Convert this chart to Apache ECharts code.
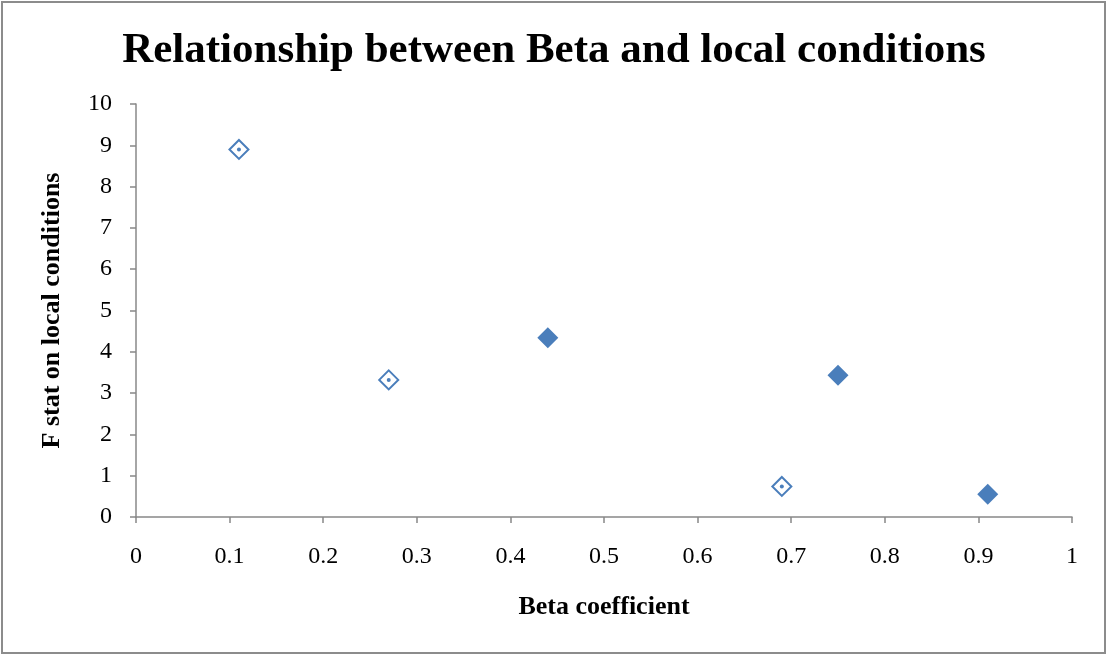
<!DOCTYPE html>
<html>
<head>
<meta charset="utf-8">
<script src="https://cdn.jsdelivr.net/npm/echarts@6/dist/echarts.min.js"></script>
<style>
  html, body { margin: 0; padding: 0; background: #fff; }
  #chart { width: 1108px; height: 656px; }
</style>
</head>
<body>
<div id="chart"></div>
<script>
// hollow diamonds (with centre dot)
const hollowX = [0.11, 0.27, 0.69]
const hollowY = [8.9, 3.32, 0.74]
// filled diamonds
const filledX = [0.44, 0.75, 0.91]
const filledY = [4.34, 3.43, 0.55]

const serif = '"Liberation Serif", "Times New Roman", serif'
const blue = '#4a7ebb'

const pairs = (xs, ys) => xs.map((x, i) => [x, ys[i]])

const chart = echarts.init(document.getElementById('chart'))
chart.setOption({
  animation: false,
  title: {
    text: 'Relationship between Beta and local conditions',
    left: 'center',
    top: 24,
    textStyle: { fontFamily: serif, fontSize: 43, fontWeight: 'bold', color: '#000' }
  },
  graphic: [{
    type: 'rect',
    shape: { x: 2, y: 2, width: 1103, height: 651 },
    style: { fill: 'none', stroke: '#8c8c8c', lineWidth: 2 }
  }],
  grid: { left: 136, right: 36, top: 104, bottom: 139 },
  xAxis: {
    type: 'value',
    min: 0, max: 1, interval: 0.1,
    name: 'Beta coefficient',
    nameLocation: 'middle',
    nameGap: 77,
    nameTextStyle: { fontFamily: serif, fontSize: 26, fontWeight: 'bold', color: '#000' },
    axisLine: { lineStyle: { color: '#888', width: 1.5 } },
    axisTick: { show: true, length: 6, lineStyle: { color: '#888', width: 1.5 } },
    axisLabel: { fontFamily: serif, fontSize: 24, color: '#000', margin: 28 },
    splitLine: { show: false }
  },
  yAxis: {
    type: 'value',
    min: 0, max: 10, interval: 1,
    name: 'F stat on local conditions',
    nameLocation: 'middle',
    nameGap: 71,
    nameTextStyle: { fontFamily: serif, fontSize: 26, fontWeight: 'bold', color: '#000' },
    axisLine: { show: true, lineStyle: { color: '#888', width: 1.5 } },
    axisTick: { show: true, length: 6, lineStyle: { color: '#888', width: 1.5 } },
    axisLabel: { fontFamily: serif, fontSize: 24, color: '#000', margin: 24 },
    splitLine: { show: false }
  },
  series: [{
    type: 'scatter',
    symbol: 'emptyDiamond',
    symbolSize: 19,
    itemStyle: { color: blue, borderColor: blue, borderWidth: 2.8, opacity: 1 },
    data: pairs(hollowX, hollowY)
  }, {
    type: 'scatter',
    symbol: 'circle',
    symbolSize: 4,
    itemStyle: { color: blue, opacity: 1 },
    data: pairs(hollowX, hollowY)
  }, {
    type: 'scatter',
    symbol: 'diamond',
    symbolSize: 21,
    itemStyle: { color: blue, opacity: 1 },
    data: pairs(filledX, filledY)
  }]
})
</script>
</body>
</html>
